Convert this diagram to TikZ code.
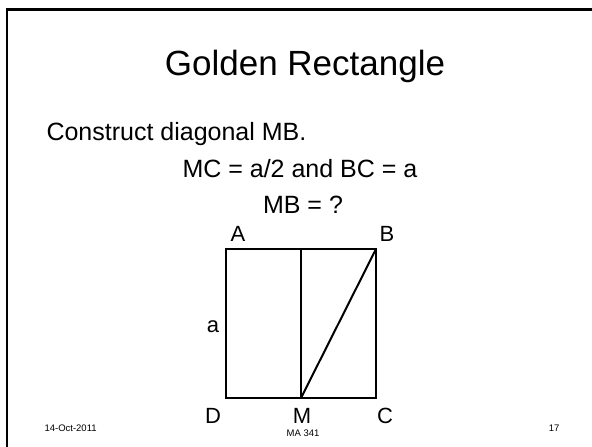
\documentclass[tikz,border=0pt]{standalone}
\usepackage{fontspec}
\setmainfont{Liberation Sans}
\begin{document}
\begin{tikzpicture}[x=1pt, y=-1pt, line join=miter,
        titletxt/.style={font=\fontsize{35}{40}\selectfont, anchor=base},
        bodytxt/.style={font=\fontsize{25}{30}\selectfont, anchor=base west},
        corner/.style={font=\fontsize{22}{26}\selectfont, anchor=base},
        foot/.style={font=\fontsize{9.5}{11}\selectfont, anchor=base}]
        \useasboundingbox (0,0) rectangle (592,447);
        % Frame
        \draw[line width=2.5pt] (7,447) -- (7,9.5) -- (592,9.5);
        
        % Text
        \node[titletxt] (title) at (305,75) {Golden Rectangle};
        \node[bodytxt] (step1) at (43,140) {Construct diagonal MB.};
        \node[bodytxt] (given) at (179,177) {MC = a/2 and BC = a};
        \node[bodytxt, anchor=base] (ask) at (303,213) {MB = ?};
        
        % Corners
        \coordinate (A) at (226,249);
        \coordinate (B) at (376,249);
        \coordinate (C) at (376,398);
        \coordinate (D) at (226,398);
        \coordinate (M) at (301,398);
        
        % Edges
        \draw[line width=2pt] (A) rectangle (C);
        \draw[line width=2.6pt] (M) -- (M |- A);
        \draw[line width=2pt] (M) -- (B);
        
        % Labels
        \node[corner] (lA) at (238,241) {A};
        \node[corner] (lB) at (387,241) {B};
        \node[corner] (lD) at (213,423) {D};
        \node[corner] (lM) at (302,423) {M};
        \node[corner] (lC) at (385,423) {C};
        \node[corner] (la) at (213,332) {a};
        
        % Footer
        \node[foot, anchor=base west] (date) at (41,431) {14-Oct-2011};
        \node[foot] (course) at (303,436) {MA 341};
        \node[foot, anchor=base east] (page) at (563,431) {17};
    \end{tikzpicture}
\end{document}
